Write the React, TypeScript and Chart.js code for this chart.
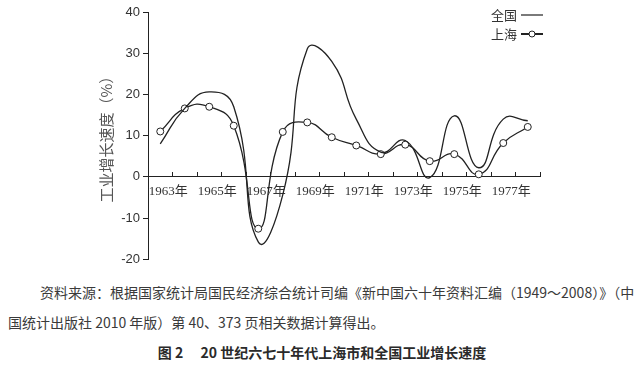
import React, { useEffect, useRef } from 'react';
import { Chart, registerables } from 'chart.js';

Chart.register(...registerables);

const years = ['1963年', '1964年', '1965年', '1966年', '1967年', '1968年', '1969年', '1970年', '1971年', '1972年', '1973年', '1974年', '1975年', '1976年', '1977年', '1978年'];
const nationalGrowth = [8.0, 16.6, 20.6, 17.0, -15.8, -4.4, 31.0, 28.0, 14.0, 6.0, 8.8, -0.2, 14.8, 2.2, 14.0, 13.6];
const shanghaiGrowth = [11.0, 16.6, 17.0, 12.4, -12.6, 10.9, 13.2, 9.6, 7.6, 5.5, 7.8, 3.8, 5.5, 0.6, 8.2, 12.1];
const seriesNames = ['全国', '上海'];
const yMin = -20;
const yMax = 40;
const yStep = 10;
const yTitle = '工业增长速度（%）';

const sourceLine1 = '资料来源：根据国家统计局国民经济综合统计司编《新中国六十年资料汇编（1949～2008）》（中';
const sourceLine2 = '国统计出版社 2010 年版）第 40、373 页相关数据计算得出。';
const caption = '图 2\u3000 20 世纪六七十年代上海市和全国工业增长速度';

const CJK = '"Noto Sans CJK SC", "Noto Sans", sans-serif';

const legendPlugin = {
  id: 'textFirstLegend',
  afterDraw(chart: any) {
    const ctx = chart.ctx as CanvasRenderingContext2D;
    const xText = 517;
    const x1 = 521;
    const x2 = 543;
    const rows = [15, 34];
    ctx.save();
    ctx.font = `13px ${CJK}`;
    ctx.fillStyle = '#333';
    ctx.textAlign = 'right';
    ctx.textBaseline = 'middle';
    chart.data.datasets.forEach((ds: any, i: number) => {
      const y = rows[i];
      ctx.fillText(ds.label, xText, y);
      ctx.beginPath();
      ctx.strokeStyle = '#222';
      ctx.lineWidth = i === 0 ? 1.2 : 2;
      ctx.moveTo(x1, y);
      ctx.lineTo(x2, y);
      ctx.stroke();
      if (ds.pointRadius > 0) {
        ctx.beginPath();
        ctx.arc((x1 + x2) / 2, y, 3, 0, Math.PI * 2);
        ctx.fillStyle = '#fff';
        ctx.fill();
        ctx.lineWidth = 1;
        ctx.stroke();
        ctx.fillStyle = '#333';
      }
    });
    ctx.restore();
  },
};

function App() {
  const ref = useRef<HTMLCanvasElement | null>(null);

  useEffect(() => {
    document.body.style.margin = '0';
    if (!ref.current) return;
    const chart = new Chart(ref.current, {
      type: 'line',
      data: {
        labels: years,
        datasets: [
          {
            label: seriesNames[0],
            data: nationalGrowth,
            borderColor: '#222',
            borderWidth: 1.3,
            pointRadius: 0,
            tension: 0.5,
            fill: false,
          },
          {
            label: seriesNames[1],
            data: shanghaiGrowth,
            borderColor: '#222',
            borderWidth: 1.3,
            pointRadius: 3.5,
            pointBackgroundColor: '#fff',
            pointBorderColor: '#222',
            pointBorderWidth: 1,
            tension: 0.5,
            fill: false,
          },
        ],
      },
      options: {
        animation: false,
        responsive: false,
        layout: { padding: { left: 0, right: 104, top: 12, bottom: 8 } },
        plugins: {
          legend: { display: false },
          tooltip: { enabled: false },
          title: { display: false },
        },
        scales: {
          x: {
            type: 'category',
            position: { y: 0 },
            offset: true,
            grid: {
              offset: true,
              drawOnChartArea: false,
              drawTicks: true,
              tickLength: -5,
              color: '#222',
            },
            border: { display: true, color: '#222', width: 1 },
            ticks: {
              autoSkip: false,
              maxRotation: 0,
              minRotation: 0,
              padding: 12,
              labelOffset: 8,
              color: '#333',
              font: { family: '"Liberation Serif", "Noto Sans CJK SC", serif', size: 13 },
              callback: (_v: any, i: number) => (i % 2 === 0 ? years[i] : ''),
            },
          },
          y: {
            min: yMin,
            max: yMax,
            afterFit: (scale: any) => {
              scale.width = 148;
            },
            grid: {
              drawOnChartArea: false,
              drawTicks: true,
              tickLength: 5,
              color: '#222',
            },
            border: { display: true, color: '#222', width: 1 },
            ticks: {
              stepSize: yStep,
              padding: 3,
              color: '#333',
              font: { family: '"Liberation Sans", Arial, sans-serif', size: 13 },
            },
            title: {
              display: true,
              text: yTitle,
              color: '#555',
              font: { family: CJK, size: 15 },
              padding: { top: 97, bottom: 0 },
            },
          },
        },
      },
      plugins: [legendPlugin],
    });
    return () => chart.destroy();
  }, []);

  const textStyle: React.CSSProperties = {
    fontFamily: CJK,
    fontSize: 14,
    color: '#3a3a3a',
    lineHeight: '30px',
    whiteSpace: 'nowrap',
  };

  return (
    <div style={{ width: 644, height: 366, position: 'relative', background: '#fff', overflow: 'hidden' }}>
      <canvas ref={ref} width={644} height={270} style={{ display: 'block', width: 644, height: 270 }} />
      <div style={{ ...textStyle, marginTop: 7, marginLeft: 40, width: 592, textAlign: 'justify', textAlignLast: 'justify' }}>
        {sourceLine1}
      </div>
      <div style={{ ...textStyle, marginLeft: 8 }}>{sourceLine2}</div>
      <div style={{ ...textStyle, textAlign: 'center', fontWeight: 'bold', width: 644, color: '#2a2a2a' }}>{caption}</div>
    </div>
  );
}

export default App;
